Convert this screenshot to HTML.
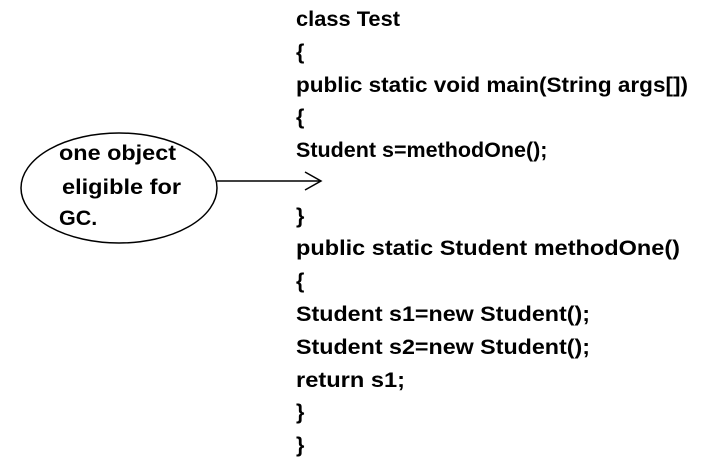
<!DOCTYPE html>
<html><head><meta charset="utf-8"><style>
html,body{margin:0;padding:0;background:#fff;}
svg{display:block;}
text{font-family:"Liberation Sans",sans-serif;font-weight:bold;font-size:21.5px;fill:#000;}
</style></head><body>
<svg width="702" height="465" viewBox="0 0 702 465">
<ellipse cx="119" cy="188" rx="98" ry="55" fill="none" stroke="#000" stroke-width="1.5"/>
<text x="59" y="160" textLength="117" lengthAdjust="spacingAndGlyphs">one object</text>
<text x="62" y="194" textLength="119" lengthAdjust="spacingAndGlyphs">eligible for</text>
<text x="59" y="225">GC.</text>
<g stroke="#000" stroke-width="1.5" fill="none">
<line x1="217" y1="181" x2="321" y2="181"/>
<polyline points="305,172 321,181 305,190"/>
</g>
<g>
<text x="296" y="26" textLength="104" lengthAdjust="spacingAndGlyphs">class Test</text>
<text x="296" y="59">{</text>
<text x="296" y="92" textLength="392" lengthAdjust="spacingAndGlyphs">public static void main(String args[])</text>
<text x="296" y="124">{</text>
<text x="296" y="157">Student s=methodOne();</text>
<text x="296" y="223">}</text>
<text x="296" y="255" textLength="384" lengthAdjust="spacingAndGlyphs">public static Student methodOne()</text>
<text x="296" y="288">{</text>
<text x="296" y="321" textLength="294" lengthAdjust="spacingAndGlyphs">Student s1=new Student();</text>
<text x="296" y="354" textLength="294" lengthAdjust="spacingAndGlyphs">Student s2=new Student();</text>
<text x="296" y="387" textLength="109" lengthAdjust="spacingAndGlyphs">return s1;</text>
<text x="296" y="419">}</text>
<text x="296" y="452">}</text>
</g>
</svg>
</body></html>
